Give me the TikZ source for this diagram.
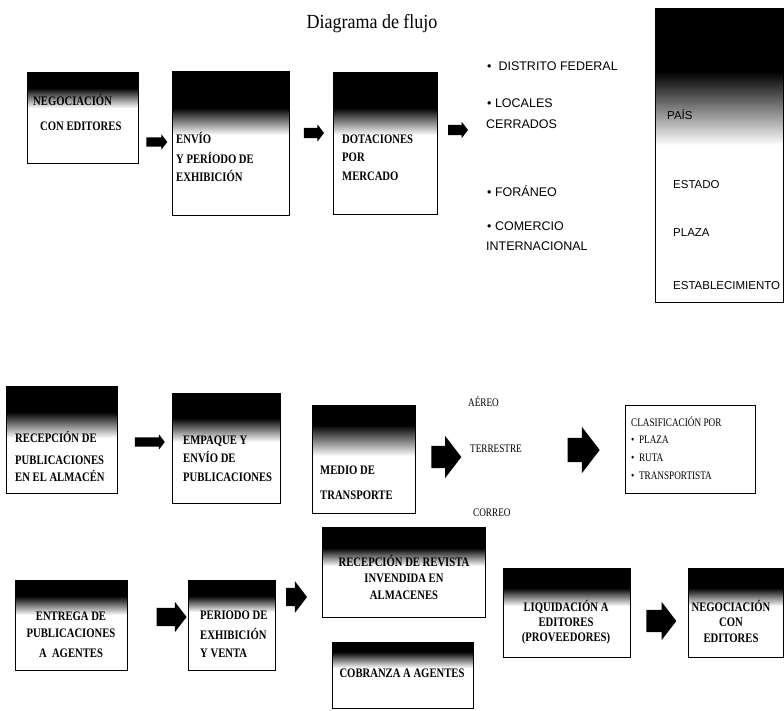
\documentclass[tikz,border=0pt]{standalone}
\usepackage{fontspec}
\setmainfont{Liberation Serif}
\newfontfamily\boxserif[FakeStretch=0.82]{Liberation Serif}
\newfontfamily\smallserif[FakeStretch=0.8]{Liberation Serif}
\newfontfamily\titleserif[FakeStretch=0.9]{Liberation Serif}
\newfontfamily\sanslist{Liberation Sans}
\usetikzlibrary{shapes.arrows}
\tikzset{
  procbox/.style={draw=black, line width=0.8pt, inner sep=0pt, outer sep=0pt},
  plainbox/.style={draw=black, line width=0.8pt, inner sep=0pt, outer sep=0pt},
  bt/.style={font=\boxserif\bfseries\fontsize{13}{15}\selectfont, inner sep=0pt, anchor=base west},
  btc/.style={font=\boxserif\bfseries\fontsize{13}{15}\selectfont, inner sep=0pt, anchor=base},
  st/.style={font=\sanslist\fontsize{12.5}{14}\selectfont, inner sep=0pt, anchor=base west},
  rt/.style={font=\sanslist\fontsize{11.5}{13}\selectfont, inner sep=0pt, anchor=base west},
  tt/.style={font=\smallserif\fontsize{11.5}{13}\selectfont, inner sep=0pt, anchor=base west},
  blk/.style={single arrow, fill=black, draw=none, inner xsep=0pt, single arrow tip angle=105, minimum width=1pt}
}
% name, x1, y1, x2, y2, y black end, y white
\newcommand\dbox[7]{%
  \fill[black] (#2,#3) rectangle (#4,#6);
  \shade[top color=black, bottom color=white] (#2,#6) rectangle (#4,#7);
  \node[procbox, minimum width={(#4-#2)*1pt}, minimum height={(#5-#3)*1pt}] (#1) at ({(#2+#4)/2},{(#3+#5)/2}) {};
}
% name, cx, cy, length, shaft, head
\newcommand\blkarrow[6]{%
  \node[blk, minimum height={#4*1pt}, inner ysep={#5*0.5pt}, single arrow head extend={(#6-#5)*0.5pt}] (#1) at (#2,#3) {};
}
\begin{document}
\begin{tikzpicture}[x=1pt, y=-1pt]
\useasboundingbox[fill=white] (0,0) rectangle (784,711);

% title
\node[font=\titleserif\fontsize{20}{23}\selectfont, inner sep=0pt, anchor=base] (title) at (372,29) {Diagrama de flujo};

% ---- row 1
\dbox{b1}{27}{72}{138}{163}{88}{108}
\node[bt] (b1t1) at (33,106) {NEGOCIACIÓN};
\node[bt] (b1t2) at (40,131) {CON EDITORES};

\dbox{b2}{172}{71}{289}{215}{108}{135}
\node[bt] (b2t1) at (176,144) {ENVÍO};
\node[bt] (b2t2) at (176,164) {Y PERÍODO DE};
\node[bt] (b2t3) at (176,182) {EXHIBICIÓN};

\dbox{b3}{333}{72}{437}{214}{108}{135}
\node[bt] (b3t1) at (342,144) {DOTACIONES};
\node[bt] (b3t2) at (342,162) {POR};
\node[bt] (b3t3) at (342,181) {MERCADO};

\blkarrow{a1}{155}{142}{21}{9}{15}
\blkarrow{a2}{312}{133}{20}{10}{17}
\blkarrow{a3}{456}{130}{20}{10}{16}

\node[st] (l1) at (487,71) {•\ \ DISTRITO FEDERAL};
\node[st] (l2) at (487,108) {• LOCALES};
\node[st] (l3) at (486,129) {CERRADOS};
\node[st] (l4) at (487,197) {• FORÁNEO};
\node[st] (l5) at (487,231) {• COMERCIO};
\node[st] (l6) at (486,251) {INTERNACIONAL};

\dbox{rb}{655}{8}{783}{302}{72}{145}
\node[rt] (r1) at (667,120) {PAÍS};
\node[rt] (r2) at (673,189) {ESTADO};
\node[rt] (r3) at (673,237) {PLAZA};
\node[rt] (r4) at (673,289) {ESTABLECIMIENTO};

% ---- row 3
\dbox{bA}{6}{386}{117}{493}{412}{438}
\node[bt] (bAt1) at (15,442) {RECEPCIÓN DE};
\node[bt] (bAt2) at (15,464) {PUBLICACIONES};
\node[bt] (bAt3) at (15,481) {EN EL ALMACÉN};

\dbox{bB}{172}{393}{280}{503}{418}{442}
\node[bt] (bBt1) at (183,444) {EMPAQUE Y};
\node[bt] (bBt2) at (183,462) {ENVÍO DE};
\node[bt] (bBt3) at (183,481) {PUBLICACIONES};

\dbox{bC}{312}{405}{415}{513}{425}{456}
\node[bt] (bCt1) at (320,474) {MEDIO DE};
\node[bt] (bCt2) at (320,499) {TRANSPORTE};

\blkarrow{a4}{148}{442}{30}{9}{15}
\blkarrow{a5}{442}{457}{30}{22}{42}
\blkarrow{a6}{579}{450}{32}{24}{46}

\node[tt] (m1) at (468,406) {AÉREO};
\node[tt] (m2) at (470,452) {TERRESTRE};
\node[tt] (m3) at (473,516) {CORREO};

\node[plainbox, minimum width=130pt, minimum height=88pt] (cls) at (690,449) {};
\node[tt] (c1) at (631,426) {CLASIFICACIÓN POR};
\node[tt] (c2) at (631,443) {•\ \ PLAZA};
\node[tt] (c3) at (631,461) {•\ \ RUTA};
\node[tt] (c4) at (631,479) {•\ \ TRANSPORTISTA};

% ---- row 4
\dbox{bD}{15}{580}{127}{670}{596}{615}
\node[btc] (bDt1) at (71,620) {ENTREGA DE};
\node[btc] (bDt2) at (71,637) {PUBLICACIONES};
\node[btc] (bDt3) at (71,657) {A\ \ AGENTES};

\dbox{bE}{188}{580}{275}{670}{596}{612}
\node[bt] (bEt1) at (200,619) {PERIODO DE};
\node[bt] (bEt2) at (200,639) {EXHIBICIÓN};
\node[bt] (bEt3) at (200,657) {Y VENTA};

\dbox{bF}{322}{527}{485}{617}{548}{566}
\node[btc] (bFt1) at (404,566) {RECEPCIÓN DE REVISTA};
\node[btc] (bFt2) at (404,582) {INVENDIDA EN};
\node[btc] (bFt3) at (404,599) {ALMACENES};

\dbox{bG}{332}{642}{473}{708}{652}{668}
\node[btc] (bGt1) at (402,677) {COBRANZA A AGENTES};

\dbox{bH}{503}{568}{630}{657}{588}{606}
\node[btc] (bHt1) at (566,611) {LIQUIDACIÓN A};
\node[btc] (bHt2) at (566,626) {EDITORES};
\node[btc] (bHt3) at (566,641) {(PROVEEDORES)};

\dbox{bI}{688}{568}{783}{657}{588}{606}
\node[btc] (bIt1) at (731,611) {NEGOCIACIÓN};
\node[btc] (bIt2) at (731,626) {CON};
\node[btc] (bIt3) at (731,642) {EDITORES};

\blkarrow{a7}{168}{617}{30}{18}{30}
\blkarrow{a8}{293}{597}{21}{18}{31}
\blkarrow{a9}{657}{621}{30}{22}{38}
\end{tikzpicture}
\end{document}
